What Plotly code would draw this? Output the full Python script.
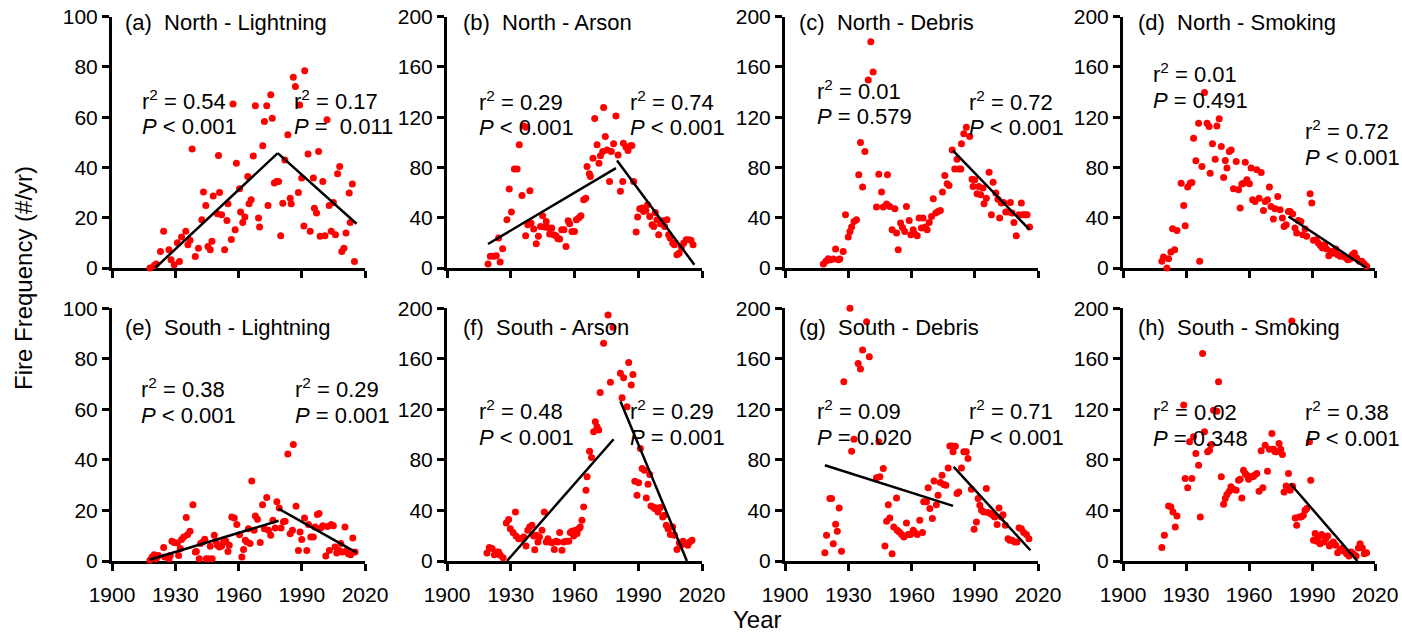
import plotly.graph_objects as go

W, H = 1402, 634

# ---------------- data (year, fires per year) ----------------
north_lightning = [(1918, 0), (1920, 1), (1921, 1.6), (1923, 6.6), (1924.5, 14.6), (1927, 7.3), (1928, 3.3),
    (1929.5, 1.3), (1931, 10), (1932, 2.6), (1933, 12.3), (1935, 14.6), (1936, 9.3), (1937, 11), (1938, 47.4),
    (1939.5, 4.6), (1941, 7.9), (1942.6, 19.2), (1943.4, 30.2), (1944.5, 24.9), (1945.5, 8.6), (1946.6, 7.3),
    (1947.4, 10.6), (1948, 28.7), (1950, 21.6), (1950.5, 44.8), (1951, 30), (1952, 21.2), (1953.4, 7.3),
    (1954.5, 18.9), (1955, 25.6), (1956.6, 11.3), (1957.4, 65.3), (1958.4, 15.2), (1959, 41.7), (1960.5, 31.5),
    (1961, 22.3), (1962, 18.1), (1963, 20.3), (1964.4, 36.4), (1965, 25.6), (1966, 27.2), (1967, 44.6),
    (1968, 64.6), (1969.5, 19.9), (1970, 16.3), (1971.5, 48.6), (1972.3, 58.3), (1973.4, 64.6), (1974, 24.9),
    (1975.3, 68.9), (1976, 59.6), (1977, 33.8), (1978, 34.4), (1979, 34.4), (1980, 12.8), (1981, 25.8),
    (1982, 43), (1983.4, 53), (1984.5, 27.8), (1985, 25.6), (1986, 75.9), (1987, 72.2), (1988.4, 30),
    (1989, 64.9), (1990, 35.8), (1991, 16.7), (1991.4, 78.5), (1993, 45.4), (1994, 14.6), (1995.5, 35.8),
    (1996, 23.8), (1997, 21.9), (1998, 46.4), (1998.7, 12.6), (2000, 34.4), (2001, 12.8), (2002, 59),
    (2003, 24.9), (2004, 14.6), (2005, 26.1), (2006, 13.2), (2007, 37.5), (2008, 40.4), (2009, 6.6),
    (2010, 7.9), (2011, 13.9), (2012.5, 29.8), (2013, 18.1), (2014, 33.4), (2015, 2.6)]

north_arson = [(1919.3, 3.2), (1920.4, 9.3), (1922, 9.3), (1923.2, 9.8), (1925, 4.8), (1924.3, 23.8),
    (1926.2, 15.4), (1928.2, 38.4), (1929.3, 62.8), (1930.3, 44.5), (1931.7, 78.7), (1933, 78.7), (1934, 98),
    (1935.3, 57.7), (1936, 113), (1937.2, 112), (1937, 25.7), (1938, 34.4), (1939, 61.5), (1939.5, 35.8),
    (1940.8, 31), (1942, 19.3), (1943, 25.2), (1944, 33), (1945, 41.6), (1946, 32.6), (1946.7, 37.1),
    (1947.4, 32.3), (1948.3, 27), (1949.3, 31.8), (1950.2, 26.5), (1951.3, 25.7), (1952.2, 23.3), (1953, 23),
    (1954, 30.5), (1955, 30.5), (1956, 17.2), (1957, 37.6), (1957.7, 35.2), (1958.8, 29.1), (1960, 29.1),
    (1960.9, 38.4), (1962, 39.7), (1963, 41.6), (1964.3, 54.3), (1965.3, 55.6), (1965.9, 80.8), (1967, 75),
    (1967.5, 72.8), (1968.7, 87.4), (1969.5, 119), (1970.6, 98), (1971.5, 83.4), (1972.2, 89.3),
    (1973.3, 92.7), (1973.7, 127.7), (1974.5, 104.6), (1975.3, 94), (1976.5, 68.9), (1977.3, 92.7),
    (1978.4, 98.8), (1979.5, 121), (1980.5, 90), (1981.6, 61), (1982.7, 68.9), (1983, 99.3), (1984.2, 96.2),
    (1985.2, 93.5), (1986.3, 97.2), (1987, 97.5), (1987.8, 68.9), (1989, 28.6), (1989.7, 40.5),
    (1990.7, 47.2), (1991.8, 47.7), (1992.5, 45), (1993.6, 45.8), (1994.4, 50.3), (1995.4, 41),
    (1996.5, 34.4), (1997.3, 33.1), (1998, 44.2), (1998.8, 38.4), (1999.6, 26.5), (2000.4, 35.2),
    (2001.6, 37.6), (2002.4, 33.1), (2003.5, 38.4), (2004.3, 26.5), (2005, 23.8), (2006.2, 19.9),
    (2007, 18.5), (2008.2, 10.6), (2009.3, 11.9), (2010.3, 16.7), (2011.4, 19.9), (2012.6, 22.5),
    (2013.7, 22.5), (2014.8, 22), (2015.8, 18.5)]

north_debris = [(1918.2, 3.2), (1919.4, 5.3), (1920.5, 7.4), (1921.6, 6.6), (1922.9, 7.2), (1924, 15.1),
    (1925.3, 6.6), (1926, 7.2), (1927.6, 13.2), (1928.7, 42.4), (1930, 24.6), (1930.8, 29.1), (1931.6, 32.6),
    (1932.7, 37.1), (1933.9, 38.4), (1935, 74.2), (1935.8, 99.9), (1936.8, 64.4), (1937.9, 92.7),
    (1939.5, 149.7), (1940.7, 180), (1941.8, 156), (1943.4, 48.5), (1944.5, 74.7), (1945.8, 60.4),
    (1946.6, 48.5), (1948.2, 51), (1948.6, 74.2), (1949.7, 49), (1950.8, 30.5), (1952.1, 47.2),
    (1952.9, 27.8), (1953.7, 14.6), (1954.8, 35.8), (1955.7, 32.3), (1956.8, 29.1), (1957.6, 49),
    (1958.9, 37.9), (1959.7, 26.5), (1960.8, 30.5), (1961.6, 27), (1962.7, 25.7), (1963.6, 39.7),
    (1964.7, 31.8), (1965.5, 39.7), (1966.6, 32.6), (1967.4, 30.5), (1968.4, 36.3), (1969.5, 41),
    (1970.3, 55.1), (1971.5, 43.7), (1972.6, 45), (1973.7, 45.8), (1974.7, 60.4), (1975.8, 73.6),
    (1976.9, 67), (1977.8, 65.7), (1979.3, 94), (1980.5, 78.7), (1981.6, 86.6), (1982.4, 78.7),
    (1983.4, 78.7), (1983.7, 98.8), (1984.8, 106.8), (1986, 112), (1987.6, 104.6), (1988.7, 70.7),
    (1989.2, 64.9), (1990, 70.2), (1991.1, 59.1), (1991.9, 64.9), (1992.8, 58.3), (1993.9, 63.6),
    (1994.4, 51.1), (1995.5, 55.6), (1996.8, 76.3), (1997.9, 42.4), (1998.7, 68.3), (2000, 59.6),
    (2001, 54.8), (2001.8, 39.7), (2002.6, 51.7), (2003.7, 52.2), (2004.7, 44.5), (2005.8, 44.5),
    (2006.9, 52.2), (2007.7, 43.7), (2008.6, 36.3), (2009.7, 25.7), (2011, 42.4), (2012.1, 51.7),
    (2012.9, 42.4), (2014, 42.4), (2014.8, 42.4), (2016, 32.6)]

north_smoking = [(1918.5, 5.3), (1919.3, 8.7), (1920.9, 0), (1921.7, 7.4), (1922.8, 12.7), (1924.6, 14.6),
    (1923.6, 31.3), (1925.7, 29.9), (1927.7, 67.5), (1928.9, 49.8), (1929.6, 33.6), (1930.8, 64.4),
    (1932, 67.5), (1932.8, 68.1), (1933.6, 103.3), (1934.7, 85.3), (1936, 115.2), (1936.5, 5.3),
    (1937.6, 80.8), (1938.8, 139.6), (1940, 115.2), (1941, 112.6), (1941.5, 75.5), (1942.6, 98.8),
    (1943.9, 86.6), (1944.7, 113.1), (1945.8, 118.7), (1946.8, 96.7), (1947.9, 72), (1948.7, 85.6),
    (1949.5, 79.5), (1950.6, 92.7), (1951.5, 94), (1952.6, 63), (1953.9, 84.8), (1955, 62.3), (1955.8, 47.7),
    (1956.6, 66.8), (1957.4, 67.5), (1958.2, 84.2), (1959, 70.2), (1960.2, 67), (1961, 79.5), (1961.7, 54.3),
    (1962.9, 53), (1963.7, 78.1), (1964.8, 55.6), (1965.8, 76), (1966.9, 45.8), (1967.7, 53), (1968.8, 54.3),
    (1969.7, 64.4), (1970.5, 49), (1971.6, 38.9), (1972.4, 47.2), (1973.7, 57), (1974.8, 46.4),
    (1975.9, 39.7), (1976.7, 33.1), (1977.7, 34.4), (1978.8, 45), (1979.6, 45), (1980.8, 42.9),
    (1981.9, 31.8), (1982.7, 27.8), (1983.5, 37.9), (1984.7, 37.1), (1985.6, 26.5), (1986.7, 31),
    (1987.5, 25.2), (1989.1, 59.1), (1989.9, 51.7), (1990.7, 22), (1992, 22.5), (1993, 19.9), (1994, 18),
    (1995, 15.9), (1996, 18.5), (1997, 15.1), (1998, 9.8), (1999, 13.2), (2000.2, 11.9), (2001.3, 15.1),
    (2002.2, 10.6), (2003.4, 9.3), (2004.5, 9.8), (2005.7, 8.5), (2007, 6.6), (2008.1, 7.2), (2009.2, 10.6),
    (2010.2, 11.9), (2011.3, 7.9), (2012.5, 5.3), (2013.7, 5.3), (2014.8, 3.4), (2016, 1.3)]

south_lightning = [(1918, 0.3), (1919, 1.6), (1920, 2.5), (1921, 0.9), (1922, 2.2), (1924.5, 5.3), (1925, 1.6),
    (1927, 0.9), (1927.6, 2.2), (1928.4, 7.8), (1929.5, 7.3), (1931, 7.1), (1931.6, 2.2), (1932.4, 4.9),
    (1933, 8.5), (1934, 9.5), (1935.2, 17.2), (1935.8, 10.4), (1937, 11.8), (1938.4, 22.3), (1939.5, 3.6),
    (1940, 3.8), (1941.4, 0.9), (1942, 6.9), (1943, 7.5), (1944, 8.6), (1944.7, 0.9), (1945.8, 0.9),
    (1946.6, 5.8), (1947.5, 0.9), (1948.5, 10.2), (1949.3, 7.8), (1950, 6.2), (1951, 5.5), (1952, 5.9),
    (1952.9, 7.5), (1954, 7.8), (1955, 3.8), (1955.6, 6.2), (1956.8, 17.4), (1958, 17), (1959.2, 14.4),
    (1960.5, 10.4), (1961.6, 1.6), (1962.4, 4.6), (1963.2, 8.2), (1964, 7.5), (1964.7, 12.8), (1965.5, 6.9),
    (1966.3, 31.7), (1967.4, 12.2), (1968, 17.8), (1969, 16.5), (1970.3, 7.3), (1971.4, 22.3),
    (1972.3, 12.8), (1973.4, 25.1), (1974.2, 12.2), (1975.3, 10.2), (1976.3, 16.1), (1977.4, 13.1),
    (1978.2, 23.4), (1979.3, 21), (1980.2, 13.1), (1981.3, 15.5), (1982.1, 15.7), (1983.4, 42.3),
    (1984.5, 10.8), (1985.6, 12.2), (1986, 46.1), (1987.3, 21.7), (1988.4, 4.2), (1989.2, 11.5), (1990, 8.5),
    (1991.3, 17), (1992.4, 4.2), (1993.2, 14.4), (1994.3, 9.5), (1995.5, 9.5), (1996.3, 13.5),
    (1997.4, 18.4), (1998.2, 18.8), (1999, 13.1), (2000, 13.9), (2001.4, 2), (2002.3, 13.7), (2003.1, 4.2),
    (2004, 14.4), (2005, 13.9), (2005.8, 5.5), (2006.6, 3.2), (2007.7, 4.2), (2008.5, 6.9), (2009.3, 3.6),
    (2010.5, 13.5), (2011.3, 4.2), (2012.1, 2.9), (2013.2, 2.5), (2014.2, 9.1), (2015.3, 3.6)]

south_arson = [(1918.8, 6.3), (1919.9, 10.6), (1921.2, 9.8), (1922.3, 5), (1923.2, 7.1), (1924.3, 7.1),
    (1925.1, 4.5), (1926.4, 2.6), (1927.9, 30.1), (1929, 32.8), (1929.8, 25.6), (1931.1, 22.5),
    (1932.2, 38.8), (1932.5, 19.8), (1933.7, 17.7), (1934.8, 17.7), (1936.1, 19), (1937.2, 11.9),
    (1938, 24.3), (1938.9, 27), (1940, 28.3), (1940.8, 19.8), (1941.3, 9), (1942, 20.3), (1942.8, 15.1),
    (1943.5, 19), (1944.7, 24.3), (1945.8, 38.8), (1946.7, 15.1), (1947.5, 17.7), (1948.6, 15.1),
    (1949.4, 14.5), (1950.5, 9.2), (1951.3, 15.6), (1952.1, 15.1), (1953, 22.5), (1954.1, 8.5),
    (1954.9, 15.1), (1956, 15.6), (1957.3, 15.6), (1958, 22.5), (1958.8, 23.5), (1959.6, 19.8),
    (1960.4, 24.3), (1961.2, 21.7), (1962, 25.6), (1962.7, 27), (1963.5, 32.2), (1964.3, 42.8), (1965.4, 56),
    (1965.9, 66.6), (1967.1, 86.9), (1968, 81.9), (1969, 102.2), (1969.8, 110.2), (1970.6, 106.2),
    (1971.4, 103.6), (1972.1, 133.4), (1973.7, 172.3), (1975.8, 194.7), (1976.9, 141.4), (1978.1, 185),
    (1981.6, 148.5), (1982.4, 129.2), (1983.1, 145), (1984.7, 122), (1985.5, 157.2), (1986.7, 139.2),
    (1987.5, 147.7), (1988.4, 63.1), (1989.4, 52), (1990.2, 62), (1991, 89), (1991.8, 73.2), (1992.9, 71.8),
    (1993.8, 49.9), (1994.6, 60.8), (1995.4, 68.4), (1996, 43.6), (1997, 42.8), (1997.7, 41.5), (1998.5, 42),
    (1999.3, 38.8), (2000.4, 42.3), (2001.5, 34.9), (2002.3, 36.2), (2003.2, 28.3), (2004, 25.6),
    (2005.1, 20.9), (2006.2, 27), (2007.1, 20.3), (2008.2, 9.2), (2009.3, 14.5), (2010.1, 12.4),
    (2011.1, 15.6), (2012.2, 13.7), (2013.3, 12.4), (2014.2, 15.1), (2015.3, 16.4)]

south_debris = [(1918.9, 6.6), (1919.7, 20.3), (1921.3, 49.4), (1922.1, 49.4), (1922.9, 13.7), (1924, 29.1),
    (1924.8, 23.5), (1925.7, 42), (1926.8, 7.7), (1927.9, 141.9), (1930.8, 200), (1931.6, 86.9),
    (1932.7, 96.4), (1934.7, 156.4), (1935.8, 151.9), (1936.8, 167), (1938.7, 189.4), (1940, 161.7),
    (1943.4, 65.8), (1944.5, 94.3), (1945, 66.6), (1946.6, 73.2), (1947.4, 11.9), (1948.2, 31.4),
    (1949, 44.6), (1949.7, 34.1), (1950.8, 5.8), (1951.6, 26.9), (1952.9, 49.9), (1953.2, 24.3),
    (1954.2, 23), (1955.3, 20.9), (1956.4, 19), (1957.6, 30.1), (1958.4, 20.9), (1959.5, 20.9),
    (1960.8, 24.3), (1961.6, 22.5), (1962.7, 20.9), (1963.9, 32.2), (1965.2, 22.5), (1965.8, 46.8),
    (1967.1, 46.8), (1967.9, 57.9), (1968.7, 41.5), (1969.9, 33.6), (1970.7, 63.4), (1971.8, 44.6),
    (1972.6, 52), (1973.7, 62.1), (1974.5, 67.9), (1975.3, 60.5), (1976.3, 60), (1977.4, 73.7),
    (1978.2, 91.1), (1979.3, 91.1), (1979.7, 86.4), (1980.8, 90.9), (1981.6, 53.4), (1982.4, 54.7),
    (1983.7, 73.7), (1984.8, 86.4), (1986, 86.4), (1986.8, 81.1), (1988.4, 56.8), (1989.7, 25.1),
    (1990.8, 30.9), (1991.6, 49.4), (1992.4, 44.1), (1993.2, 40.2), (1994.3, 38.8), (1995.5, 57.3),
    (1996.3, 38.3), (1997.4, 37.5), (1998.6, 36.2), (1999.5, 34.9), (2000.6, 28.8), (2001.5, 42),
    (2002.6, 34.9), (2003.4, 36.7), (2004.5, 28.3), (2005.8, 17.7), (2006.6, 16.4), (2007.7, 16.4),
    (2009, 15.1), (2010, 15.1), (2011, 26.2), (2012.1, 25.6), (2013.2, 22.5), (2014.5, 20.9), (2015.7, 17.7)]

south_smoking = [(1918.5, 10.6), (1919.7, 20.3), (1921.7, 43.6), (1922.8, 42.8), (1923.8, 38.8),
    (1924.9, 26.9), (1925.7, 35.7), (1928.9, 123.4), (1929.6, 65.3), (1930.8, 57.9), (1931.7, 94.3),
    (1932.8, 65.3), (1933.6, 98.3), (1934.7, 85.1), (1936, 75.8), (1936.8, 34.9), (1937.9, 164.3),
    (1938.8, 102.2), (1940.3, 86.4), (1941.2, 87.7), (1942, 92.2), (1943.1, 119.4), (1944.7, 118.6),
    (1945.5, 141.9), (1946.8, 66.6), (1947.9, 44.9), (1948.7, 49.4), (1949.5, 52.6), (1950.6, 55.2),
    (1951.4, 58.7), (1952.6, 56.8), (1953.9, 56), (1955, 63.9), (1955.8, 64.7), (1956.6, 49.9),
    (1957.4, 71.9), (1958.2, 69.2), (1959, 67.9), (1959.8, 64.7), (1960.6, 66.6), (1961.8, 66.6),
    (1962.6, 67.9), (1963.7, 69.2), (1964.8, 55.2), (1965.8, 87.2), (1966.6, 57.9), (1967.7, 91.7),
    (1968.8, 71.1), (1969.7, 88.5), (1970.9, 100.9), (1971.7, 88.5), (1972.4, 86.4), (1973.2, 86.4),
    (1974.3, 93), (1975.1, 88.5), (1975.9, 84.3), (1976.7, 54.7), (1977.7, 59.4), (1978.8, 69.2),
    (1979.6, 56), (1980.4, 190), (1980.8, 59.2), (1982, 34.1), (1982.7, 28.3), (1983.9, 34.9),
    (1984.8, 34.9), (1985.9, 36.2), (1986.7, 40.2), (1987.5, 41.5), (1988.8, 94.3), (1989.4, 63.9),
    (1990.7, 16.4), (1991.5, 21.7), (1992.3, 15.6), (1993.1, 19), (1993.8, 13.7), (1994.6, 20.9),
    (1995.7, 15.1), (1996.5, 17.7), (1997.5, 19.8), (1998.3, 11.9), (1999.1, 13.7), (2000.2, 15.1),
    (2001.3, 12.4), (2002.2, 6.6), (2003.4, 8.5), (2004.5, 10.3), (2005.4, 7.7), (2006.5, 5.8), (2007.6, 4),
    (2008.6, 7.1), (2009.7, 5.8), (2011, 4), (2012.1, 10.3), (2012.9, 13.7), (2014, 10.3), (2014.9, 5.8),
    (2016, 6.6)]

# fitted trend segments: (start year, start value, end year, end value)
trend_north_lightning = [(1920.5, 0, 1978.6, 45.7), (1978.6, 45.7, 2016, 17.6)]
trend_north_arson = [(1919.3, 19.1, 1979.5, 79.5), (1980, 85.6, 2016.4, 2.6)]
trend_north_debris = [(1979.7, 93.5, 2016, 30.5)]
trend_north_smoking = [(1978.8, 41, 2016, 0)]
trend_south_lightning = [(1917.8, 0.5, 1979, 15.9), (1979, 20.7, 2016, 3.3)]
trend_south_arson = [(1928.2, 0, 1978.4, 96.4), (1981.6, 126.5, 2012.9, 0)]
trend_south_debris = [(1918.9, 75.8, 1979.7, 43.6), (1980, 74.5, 2016.4, 8.5)]
trend_south_smoking = [(1979.6, 61.3, 2011.6, 0)]

# statistics text: (r², P relation)
stats_north_lightning = [("0.54", "&lt; 0.001"), ("0.17", "=\u00a0 0.011")]
stats_north_arson = [("0.29", "&lt; 0.001"), ("0.74", "&lt; 0.001")]
stats_north_debris = [("0.01", "= 0.579"), ("0.72", "&lt; 0.001")]
stats_north_smoking = [("0.01", "= 0.491"), ("0.72", "&lt; 0.001")]
stats_south_lightning = [("0.38", "&lt; 0.001"), ("0.29", "= 0.001")]
stats_south_arson = [("0.48", "&lt; 0.001"), ("0.29", "= 0.001")]
stats_south_debris = [("0.09", "= 0.020"), ("0.71", "&lt; 0.001")]
stats_south_smoking = [("0.02", "= 0.348"), ("0.38", "&lt; 0.001")]

titles = ["(a)", "(b)", "(c)", "(d)", "(e)", "(f)", "(g)", "(h)"]
names = ["North - Lightning", "North - Arson", "North - Debris", "North - Smoking",
         "South - Lightning", "South - Arson", "South - Debris", "South - Smoking"]
year_ticks = [1900, 1930, 1960, 1990, 2020]
y_max = [100, 200, 200, 200, 100, 200, 200, 200]

series = [north_lightning, north_arson, north_debris, north_smoking,
          south_lightning, south_arson, south_debris, south_smoking]
trends = [trend_north_lightning, trend_north_arson, trend_north_debris, trend_north_smoking,
          trend_south_lightning, trend_south_arson, trend_south_debris, trend_south_smoking]
stats = [stats_north_lightning, stats_north_arson, stats_north_debris, stats_north_smoking,
         stats_south_lightning, stats_south_arson, stats_south_debris, stats_south_smoking]

# ---------------- layout geometry (window pixels) ----------------
col_px = [(112, 365), (447, 702), (785, 1038), (1123, 1375)]
row_px = [(16.7, 268), (308.3, 561)]
title_px = [(123, 23), (461, 23), (797, 23), (1136, 23), (123, 327), (461, 327), (797, 327), (1136, 327)]
stat_px = [[(140, 100), (292, 100)], [(477, 101), (628, 101)], [(815, 90), (967, 101)],
           [(1151, 73), (1303, 130)], [(139, 388), (293, 388)], [(477, 410), (628, 410)],
           [(815, 410), (967, 410)], [(1151, 411), (1303, 411)]]
line_gap = 27

FONT = "Liberation Sans, Arial, sans-serif"


def px(x):
    return x / W


def py(y):
    return 1 - y / H


fig = go.Figure()
layout = dict(width=W, height=H, margin=dict(l=0, r=0, t=0, b=0, autoexpand=False), showlegend=False,
              plot_bgcolor="white", paper_bgcolor="white", font=dict(family=FONT, color="black"))
annotations = []

for i in range(8):
    r, c = divmod(i, 4)
    xs = "" if i == 0 else str(i + 1)
    xa, ya = "x" + xs, "y" + xs
    fig.add_trace(go.Scatter(x=[p[0] for p in series[i]], y=[p[1] for p in series[i]], mode="markers",
                             marker=dict(color="#ff0000", size=7), xaxis=xa, yaxis=ya, cliponaxis=False))
    tx, ty = [], []
    for seg in trends[i]:
        tx += [seg[0], seg[2], None]
        ty += [seg[1], seg[3], None]
    fig.add_trace(go.Scatter(x=tx, y=ty, mode="lines", line=dict(color="black", width=2.5),
                             xaxis=xa, yaxis=ya, cliponaxis=False))
    common = dict(showline=True, linewidth=3, linecolor="black", ticks="outside", ticklen=7, tickwidth=3,
                  tickcolor="black", showgrid=False, zeroline=False, layer="below traces", automargin=False,
                  ticklabeloverflow="allow", tickfont=dict(size=21, family=FONT, color="black"))
    layout["xaxis" + xs] = dict(common, domain=[px(col_px[c][0]), px(col_px[c][1])], range=[1900, 2020],
                                tickvals=year_ticks, ticktext=[str(t) for t in year_ticks],
                                showticklabels=(r == 1), anchor=ya, ticklabelstandoff=6)
    step = y_max[i] // 5
    layout["yaxis" + xs] = dict(common, domain=[py(row_px[r][1]), py(row_px[r][0])], range=[0, y_max[i]],
                                tickvals=list(range(0, y_max[i] + 1, step)), anchor=xa)
    tpx, tpy = title_px[i]
    annotations.append(dict(x=px(tpx), y=py(tpy), xref="paper", yref="paper", xanchor="left", yanchor="middle",
                            text=titles[i] + "\u00a0\u00a0" + names[i], showarrow=False,
                            font=dict(size=22, family=FONT, color="black")))
    for (r2, pv), (sx, sy) in zip(stats[i], stat_px[i]):
        annotations.append(dict(x=px(sx), y=py(sy), xref="paper", yref="paper", xanchor="left",
                                yanchor="middle", text="r<sup>2</sup> = " + r2, showarrow=False,
                                font=dict(size=22, family=FONT, color="black")))
        annotations.append(dict(x=px(sx), y=py(sy + line_gap), xref="paper", yref="paper", xanchor="left",
                                yanchor="middle", text="<i>P</i> " + pv, showarrow=False,
                                font=dict(size=22, family=FONT, color="black")))

annotations.append(dict(x=px(24), y=py(278), xref="paper", yref="paper", xanchor="center", yanchor="middle",
                        text="Fire Frequency (#/yr)", textangle=-90, showarrow=False,
                        font=dict(size=24, family=FONT, color="black")))
annotations.append(dict(x=px(757), y=py(619), xref="paper", yref="paper", xanchor="center", yanchor="middle",
                        text="Year", showarrow=False, font=dict(size=24, family=FONT, color="black")))
layout["annotations"] = annotations
fig.update_layout(**layout)
# remove the browser's default 8 px page margin so the figure fills the window exactly
fig.write_html("out.html", config={"displayModeBar": False},
               post_script="document.body.style.margin='0px';")
